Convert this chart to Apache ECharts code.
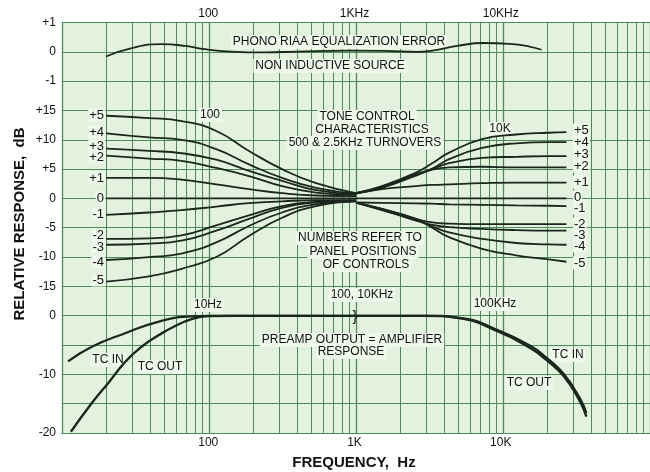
<!DOCTYPE html>
<html><head><meta charset="utf-8">
<script src="https://cdn.jsdelivr.net/npm/echarts@6/dist/echarts.min.js"></script>
<style>html,body{margin:0;padding:0;background:#fff}#c{width:650px;height:472px}</style>
</head><body><div id="c"></div><script>
// ---------- DATA ----------
const RIAA_F  = [20, 30, 48, 70, 95, 143, 244, 409, 940, 1600, 2690, 3500, 5020, 7660, 11500, 15700, 19000];
const RIAA_DB = [-0.16, 0.13, 0.26, 0.2, 0.09, 0.01, -0.02, 0.01, 0.04, 0.03, 0.0, 0.05, 0.2, 0.3, 0.27, 0.18, 0.07];

const BASS_F  = [20, 39, 65, 112, 187, 314, 535, 1000];
const BASS_P5 = [14.1, 13.7, 13.2, 11.5, 8.1, 5.0, 2.6, 0.9];
const BASS_P4 = [11.1, 10.4, 10.0, 8.4, 5.8, 3.5, 1.8, 0.8];
const BASS_P3 = [8.5, 8.1, 7.7, 6.6, 4.7, 3.0, 1.4, 0.7];
const BASS_P2 = [7.3, 6.8, 6.4, 5.2, 3.8, 2.1, 1.0, 0.6];
const BASS_P1 = [3.5, 3.5, 3.2, 2.4, 1.6, 0.9, 0.5, 0.4];
const BASS_Z  = [0, 0, 0, 0, 0, 0, 0, 0];
const BASS_M1 = [-2.8, -2.4, -2.0, -1.4, -0.8, -0.5, -0.3, -0.3];
const BASS_M2 = [-6.9, -6.8, -6.3, -4.6, -2.9, -1.3, -0.6, -0.4];
const BASS_M3 = [-7.9, -7.7, -7.2, -5.5, -3.5, -1.6, -0.7, -0.4];
const BASS_M4 = [-10.5, -10.0, -9.4, -7.5, -4.7, -2.4, -1.0, -0.5];
const BASS_M5 = [-14.2, -13.3, -12.0, -10.0, -6.4, -3.3, -1.3, -0.5];

const TREB_F  = [1000, 1500, 2560, 3300, 4300, 7200, 12250, 20500, 27000];
const TREB_P5 = [0.9, 2.1, 4.4, 6.0, 7.8, 10.1, 10.9, 11.2, 11.3];
const TREB_P4 = [0.9, 2.0, 4.1, 5.1, 6.7, 8.6, 9.4, 9.6, 9.6];
const TREB_P3 = [0.9, 1.9, 4.0, 5.0, 6.0, 6.9, 7.1, 7.2, 7.2];
const TREB_P2 = [0.9, 1.8, 3.9, 4.9, 5.3, 5.4, 5.3, 5.3, 5.3];
const TREB_P1 = [0.8, 1.6, 2.1, 2.3, 2.4, 2.6, 2.7, 2.7, 2.7];
const TREB_Z  = [0, 0, 0, 0, 0, 0, 0, 0, 0];
const TREB_M1 = [-0.7, -0.75, -0.85, -0.9, -1.0, -1.1, -1.2, -1.25, -1.3];
const TREB_M2 = [-0.7, -1.8, -3.5, -4.1, -4.3, -4.4, -4.4, -4.4, -4.4];
const TREB_M3 = [-0.7, -1.9, -3.8, -4.5, -4.9, -5.2, -5.4, -5.5, -5.5];
const TREB_M4 = [-0.7, -2.0, -3.7, -4.8, -5.8, -6.9, -7.6, -7.85, -7.9];
const TREB_M5 = [-0.7, -1.8, -3.5, -5.0, -6.6, -8.6, -9.7, -10.4, -10.8];

const TCIN_F   = [11, 16, 27, 46, 77, 130, 1000, 3000, 5570, 9400, 15900, 20400, 26900, 34800, 38500];
const TCIN_DB  = [-7.8, -5.3, -3.0, -1.0, -0.1, 0, 0, 0, -0.45, -2.4, -5.1, -7.1, -9.9, -14.1, -16.6];
const TCOUT_F  = [11.5, 16, 21, 27, 35, 46, 59, 77, 100, 150, 1000, 3000, 5570, 9400, 15900, 20400, 26900, 34800, 38500];
const TCOUT_DB = [-19.8, -14.9, -11.3, -7.9, -5.3, -3.3, -1.8, -0.6, -0.05, 0, 0, 0, -0.55, -2.6, -5.5, -7.5, -10.3, -14.6, -17.2];

const LEVEL_LABELS = ['+5', '+4', '+3', '+2', '+1', '0', '-1', '-2', '-3', '-4', '-5'];
const TOP_TICK_VALUES = [100, 1000, 10000];
const TOP_TICK_TEXT = ['100', '1KHz', '10KHz'];
const BOT_TICK_VALUES = [100, 1000, 10000];
const BOT_TICK_TEXT = ['100', '1K', '10K'];
const DECADES = [10, 100, 1000, 10000];
const MULTIPLES = [2, 3, 4, 5, 6, 7, 8, 9];

// ---------- STYLE / LAYOUT ----------
const FONT = '"Liberation Sans", Arial, sans-serif';
const BG = '#e3f2de', GRID = '#4f8a5a', INK = '#1b261d', MASK = '#eef8eb';
const L = 62, W = 588, T = 22.5, STEP = 29.32;

const pairs = (f, v) => f.map((x, i) => [x, v[i]]);
const curve = (f, v, g, w) => ({
  type: 'line', xAxisIndex: g, yAxisIndex: g, data: pairs(f, v), smooth: 0.5,
  symbol: 'none', silent: true, animation: false,
  lineStyle: { color: INK, width: w || 1.8 }, z: 5
});

const minorLines = [];
DECADES.forEach(d => MULTIPLES.forEach(m => minorLines.push({ xAxis: d * m })));

const logX = (g, extra) => Object.assign({
  gridIndex: g, type: 'log', logBase: 10, min: 10, max: 100000, show: false
}, extra || {});
const valY = (g, min, max, interval) => ({
  gridIndex: g, type: 'value', min, max, interval,
  axisLine: { show: false }, axisTick: { show: false }, splitLine: { show: false },
  axisLabel: { color: '#111', fontSize: 12, fontFamily: FONT, margin: 6,
    formatter: v => (v > 0 ? '+' + v : '' + v) }
});
const tickFmt = (vals, txt) => v => { const i = vals.indexOf(Math.round(v)); return i >= 0 ? txt[i] : ''; };

const txt = (s, x, y, opt) => Object.assign({
  type: 'text', x, y, z: 4, silent: true,
  style: Object.assign({ text: s, fill: '#111', font: '12px ' + FONT,
    align: 'center', verticalAlign: 'middle', textAlign: 'center', textVerticalAlign: 'middle',
    backgroundColor: MASK, padding: [1, 2] }, (opt && opt.style) || {})
}, opt && opt.rotation ? { rotation: opt.rotation } : {});

const leftLabelsY = [115, 132, 146, 157, 178, 198, 214, 235, 247, 262, 280];
const rightLabelsY = [130, 142, 154, 166, 182, 197, 208, 224, 235, 246, 263];
const graphics = [];
LEVEL_LABELS.forEach((s, i) => {
  graphics.push(txt(s, 105, leftLabelsY[i], { style: { align: 'right', textAlign: 'right', font: '13px ' + FONT, padding: [0, 1] } }));
  graphics.push(txt(s, 573, rightLabelsY[i], { style: { align: 'left', textAlign: 'left', font: '13px ' + FONT, padding: [0, 1] } }));
});
graphics.push(
  txt('PHONO RIAA EQUALIZATION ERROR', 339, 42),
  txt('NON INDUCTIVE SOURCE', 330, 66),
  txt('TONE CONTROL', 367, 117),
  txt('CHARACTERISTICS', 372, 130),
  txt('500 & 2.5KHz TURNOVERS', 365, 143),
  txt('NUMBERS REFER TO', 360, 238),
  txt('PANEL POSITIONS', 363, 252),
  txt('OF CONTROLS', 366, 265),
  txt('100', 210, 115),
  txt('10K', 500, 129),
  txt('10Hz', 208, 305),
  txt('100, 10KHz', 362, 295),
  txt('}', 355, 317, { style: { font: '15px ' + FONT, backgroundColor: 'transparent', padding: 0 } }),
  txt('100KHz', 495, 304),
  txt('PREAMP OUTPUT = AMPLIFIER', 352, 340),
  txt('RESPONSE', 351, 352),
  txt('TC IN', 108, 360),
  txt('TC OUT', 160, 367),
  txt('TC IN', 568, 355),
  txt('TC OUT', 529, 383),
  txt('RELATIVE RESPONSE,  dB', 20, 224, { rotation: Math.PI / 2,
    style: { font: 'bold 15px ' + FONT, backgroundColor: 'transparent', padding: 0 } }),
  txt('FREQUENCY,  Hz', 354, 463, { style: { font: 'bold 15px ' + FONT, backgroundColor: 'transparent', padding: 0 } })
);

const option = {
  backgroundColor: '#fff',
  animation: false,
  grid: [
    { left: L, width: W, top: T, height: 14 * STEP, show: true, backgroundColor: BG, borderWidth: 0 },
    { left: L, width: W, top: T, height: 2 * STEP },
    { left: L, width: W, top: T + 3 * STEP, height: 6 * STEP },
    { left: L, width: W, top: T + 10 * STEP, height: 4 * STEP }
  ],
  xAxis: [
    logX(0, { show: true, axisLabel: { show: false }, axisTick: { show: false },
      axisLine: { show: true, lineStyle: { color: GRID, width: 1.2 } },
      splitLine: { show: true, lineStyle: { color: GRID, width: 1.3 } } }),
    logX(1, { show: true, position: 'top', axisLine: { show: false }, axisTick: { show: false },
      splitLine: { show: false },
      axisLabel: { color: '#111', fontSize: 12, fontFamily: FONT, margin: 3,
        formatter: tickFmt(TOP_TICK_VALUES, TOP_TICK_TEXT), showMinLabel: true, showMaxLabel: true } }),
    logX(2),
    logX(3, { show: true, position: 'bottom', axisLine: { show: false }, axisTick: { show: false },
      splitLine: { show: false },
      axisLabel: { color: '#111', fontSize: 12, fontFamily: FONT, margin: 4,
        formatter: tickFmt(BOT_TICK_VALUES, BOT_TICK_TEXT) } })
  ],
  yAxis: [
    { gridIndex: 0, type: 'value', min: 0, max: 14, interval: 1,
      axisLabel: { show: false }, axisTick: { show: false }, axisLine: { show: false },
      splitLine: { show: true, lineStyle: { color: GRID, width: 1.1 } } },
    valY(1, -1, 1, 1),
    valY(2, -15, 15, 5),
    valY(3, -20, 0, 10)
  ],
  graphic: graphics,
  series: [
    { type: 'line', xAxisIndex: 0, yAxisIndex: 0, data: [[10, 0], [100000, 0]], symbol: 'none',
      silent: true, lineStyle: { opacity: 0 }, z: 1,
      markLine: { z: 1, silent: true, symbol: ['none', 'none'], label: { show: false }, animation: false,
        lineStyle: { color: GRID, width: 1, type: 'solid', opacity: 1 }, emphasis: { disabled: true },
        data: minorLines } },
    curve(RIAA_F, RIAA_DB, 1, 1.8),
    curve(BASS_F, BASS_P5, 2), curve(BASS_F, BASS_P4, 2), curve(BASS_F, BASS_P3, 2),
    curve(BASS_F, BASS_P2, 2), curve(BASS_F, BASS_P1, 2), curve(BASS_F, BASS_Z, 2),
    curve(BASS_F, BASS_M1, 2), curve(BASS_F, BASS_M2, 2), curve(BASS_F, BASS_M3, 2),
    curve(BASS_F, BASS_M4, 2), curve(BASS_F, BASS_M5, 2),
    curve(TREB_F, TREB_P5, 2), curve(TREB_F, TREB_P4, 2), curve(TREB_F, TREB_P3, 2),
    curve(TREB_F, TREB_P2, 2), curve(TREB_F, TREB_P1, 2), curve(TREB_F, TREB_Z, 2),
    curve(TREB_F, TREB_M1, 2), curve(TREB_F, TREB_M2, 2), curve(TREB_F, TREB_M3, 2),
    curve(TREB_F, TREB_M4, 2), curve(TREB_F, TREB_M5, 2),
    curve(TCIN_F, TCIN_DB, 3, 2.2),
    curve(TCOUT_F, TCOUT_DB, 3, 2.4)
  ]
};
const chart = echarts.init(document.getElementById('c'), null, { renderer: 'canvas' });
chart.setOption(option);
</script></body></html>
